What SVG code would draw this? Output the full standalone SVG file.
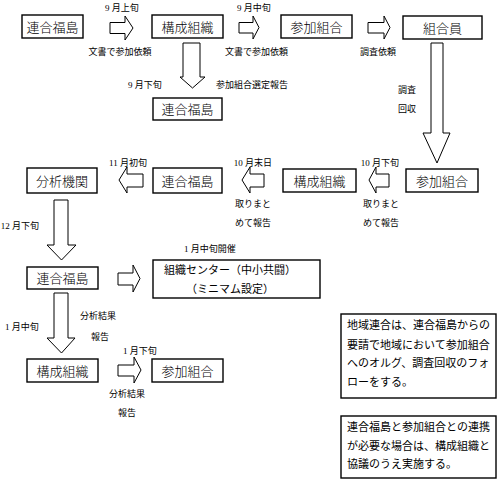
<svg xmlns="http://www.w3.org/2000/svg" width="500" height="483" viewBox="0 0 500 483">
<style>
.box{fill:#fff;stroke:#000;stroke-width:1.4}
.arr{fill:#fff;stroke:#000;stroke-width:1}
.n{font-family:"Noto Sans CJK JP","Liberation Sans",sans-serif;font-size:13px;font-weight:300;text-anchor:middle;fill:#000}
.s{font-family:"Liberation Serif","Noto Sans CJK JP",serif;font-size:9px;text-anchor:middle;fill:#000}
.t{font-family:"Liberation Serif","Noto Sans CJK JP",serif;font-size:11px;fill:#000}
</style>
<rect width="500" height="483" fill="#fff"/>
<g id="connectors">
<path class="arr" d="M110,22.5 L125,22.5 L125,16 L133,28 L125,40 L125,33.5 L110,33.5 Z"/>
<path class="arr" d="M239,22.5 L253,22.5 L253,16 L259,27.5 L253,39 L253,33 L239,33 Z"/>
<path class="arr" d="M368,22.5 L384,22.5 L384,16 L390,27.5 L384,39 L384,33 L368,33 Z"/>
<path class="arr" d="M183,43 L200,43 L200,77 L205,77 L192.5,88 L180,77 L183,77 Z"/>
<path class="arr" d="M431,43 L443,43 L443,133 L450,133 L437,163 L423,133 L431,133 Z"/>
<path class="arr" d="M143,174 L127,174 L127,167 L119,180 L127,193 L127,187 L143,187 Z"/>
<path class="arr" d="M264,174 L250,174 L250,167 L242,180 L250,193 L250,187 L264,187 Z"/>
<path class="arr" d="M389,174 L376,174 L376,167 L369,180 L376,193 L376,187 L389,187 Z"/>
<path class="arr" d="M54,200 L68,200 L68,245 L76,245 L61.5,260 L47,245 L54,245 Z"/>
<path class="arr" d="M54,293 L68,293 L68,338 L75,338 L61.5,353 L47,338 L54,338 Z"/>
<path class="arr" d="M118,273 L133,273 L133,265 L140,278.5 L133,292 L133,285 L118,285 Z"/>
<path class="arr" d="M118,365 L134,365 L134,357 L141,370 L134,383 L134,376 L118,376 Z"/>
</g>
<g id="labels">
<text class="s" x="122" y="11">9 月上旬</text>
<text class="s" x="120" y="54.5">文書で参加依頼</text>
<text class="s" x="254" y="11">9 月中旬</text>
<text class="s" x="256.5" y="54.5">文書で参加依頼</text>
<text class="s" x="378" y="54.5">調査依頼</text>
<text class="s" x="145" y="87.5">9 月下旬</text>
<text class="s" x="252" y="87.5">参加組合選定報告</text>
<text class="s" x="407" y="92.5">調査</text>
<text class="s" x="407" y="111.5">回収</text>
<text class="s" x="128" y="165.5">11 月初旬</text>
<text class="s" x="253" y="165.5">10 月末日</text>
<text class="s" x="253" y="206.5">取りまと</text>
<text class="s" x="253" y="225.5">めて報告</text>
<text class="s" x="380" y="165.5">10 月下旬</text>
<text class="s" x="381" y="206.5">取りまと</text>
<text class="s" x="381" y="225.5">めて報告</text>
<text class="s" x="20" y="228.5">12 月下旬</text>
<text class="s" x="210" y="251.5">1 月中旬開催</text>
<text class="s" x="22" y="329.5">1 月中旬</text>
<text class="s" x="98" y="318.5">分析結果</text>
<text class="s" x="100" y="339.5">報告</text>
<text class="s" x="140" y="353.5">1 月下旬</text>
<text class="s" x="127" y="396.5">分析結果</text>
<text class="s" x="127" y="415.5">報告</text>
</g>
<g id="n1"><rect class="box" x="22" y="15" width="61" height="23"/><text class="n" x="52.5" y="31.5">連合福島</text></g>
<g id="n2"><rect class="box" x="152" y="15" width="71" height="23"/><text class="n" x="187.5" y="31.5">構成組織</text></g>
<g id="n3"><rect class="box" x="281" y="15" width="71" height="23"/><text class="n" x="316.5" y="31.5">参加組合</text></g>
<g id="n4"><rect class="box" x="403" y="16" width="79" height="23"/><text class="n" x="442.5" y="32.5">組合員</text></g>
<g id="n5"><rect class="box" x="153" y="98" width="69" height="22"/><text class="n" x="187.5" y="114">連合福島</text></g>
<g id="n6"><rect class="box" x="27" y="168" width="70" height="25"/><text class="n" x="62" y="185.5">分析機関</text></g>
<g id="n7"><rect class="box" x="153" y="168" width="69" height="25"/><text class="n" x="187.5" y="185.5">連合福島</text></g>
<g id="n8"><rect class="box" x="283" y="169" width="73" height="23"/><text class="n" x="319.5" y="185.5">構成組織</text></g>
<g id="n9"><rect class="box" x="406" y="169" width="72" height="23"/><text class="n" x="442" y="185.5">参加組合</text></g>
<g id="n10"><rect class="box" x="27" y="267" width="71" height="22"/><text class="n" x="62.5" y="283">連合福島</text></g>
<g id="n11"><rect class="box" x="153" y="260" width="167" height="38"/>
<text class="t" x="230" y="274" text-anchor="middle">組織センター（中小共闘）</text>
<text class="t" x="230" y="293" text-anchor="middle">（ミニマム設定）</text></g>
<g id="n12"><rect class="box" x="27" y="359" width="71" height="23"/><text class="n" x="62.5" y="375.5">構成組織</text></g>
<g id="n13"><rect class="box" x="152" y="359" width="71" height="23"/><text class="n" x="187.5" y="375.5">参加組合</text></g>
<g id="note1"><rect class="box" x="341" y="314" width="155" height="84"/>
<text class="t" x="347" y="329">地域連合は、連合福島からの</text>
<text class="t" x="347" y="349">要請で地域において参加組合</text>
<text class="t" x="347" y="367">へのオルグ、調査回収のフォ</text>
<text class="t" x="347" y="386">ローをする。</text></g>
<g id="note2"><rect class="box" x="341" y="416" width="155" height="62"/>
<text class="t" x="347" y="431">連合福島と参加組合との連携</text>
<text class="t" x="347" y="450">が必要な場合は、構成組織と</text>
<text class="t" x="347" y="468">協議のうえ実施する。</text></g>
</svg>
